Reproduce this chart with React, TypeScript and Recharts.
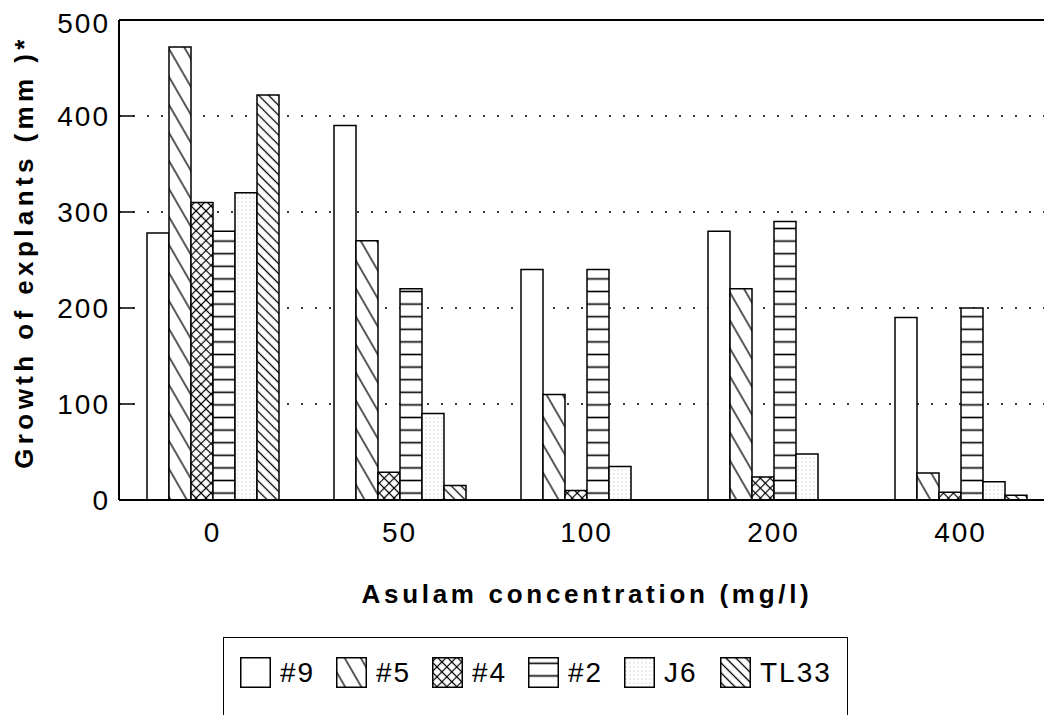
import { BarChart, Bar, XAxis, YAxis, CartesianGrid, ReferenceLine } from "recharts";

// Asulam concentration (mg/l) on the x axis
const concentrations = ["0", "50", "100", "200", "400"];

// growth of explants (mm) per clone
const clone9 = [278, 390, 240, 280, 190];
const clone5 = [472, 270, 110, 220, 28];
const clone4 = [310, 29, 10, 24, 8];
const clone2 = [280, 220, 240, 290, 200];
const cloneJ6 = [320, 90, 35, 48, 19];
const cloneTL33 = [422, 15, 0, 0, 5];

const yTicks = [0, 100, 200, 300, 400, 500];

const series = [
  { key: "c9", name: "#9", values: clone9, pattern: "plain" },
  { key: "c5", name: "#5", values: clone5, pattern: "sparse" },
  { key: "c4", name: "#4", values: clone4, pattern: "cross" },
  { key: "c2", name: "#2", values: clone2, pattern: "hline" },
  { key: "cJ6", name: "J6", values: cloneJ6, pattern: "stipple" },
  { key: "cTL33", name: "TL33", values: cloneTL33, pattern: "dense" },
];

const data = concentrations.map((conc, i) => {
  const row: { [k: string]: string | number } = { conc };
  series.forEach((s) => {
    row[s.key] = s.values[i];
  });
  return row;
});

const FONT = "'Liberation Sans', Arial, Helvetica, sans-serif";

function Patterns({ prefix }: { prefix: string }) {
  return (
    <defs>
      <pattern id={`${prefix}-plain`} width={4} height={4} patternUnits="userSpaceOnUse">
        <rect width={4} height={4} fill="#fff" />
      </pattern>
      <pattern
        id={`${prefix}-sparse`}
        width={14}
        height={14}
        patternUnits="userSpaceOnUse"
        patternTransform="rotate(-30)"
      >
        <rect width={14} height={14} fill="#fff" />
        <line x1={7} y1={0} x2={7} y2={14} stroke="#000" strokeWidth={1.3} />
      </pattern>
      <pattern
        id={`${prefix}-cross`}
        width={7}
        height={7}
        patternUnits="userSpaceOnUse"
        patternTransform="rotate(45)"
      >
        <rect width={7} height={7} fill="#fff" />
        <line x1={0} y1={3.5} x2={7} y2={3.5} stroke="#000" strokeWidth={1.2} />
        <line x1={3.5} y1={0} x2={3.5} y2={7} stroke="#000" strokeWidth={1.2} />
      </pattern>
      <pattern id={`${prefix}-hline`} width={10} height={12.6} patternUnits="userSpaceOnUse">
        <rect width={10} height={12.6} fill="#fff" />
        <line x1={0} y1={6.3} x2={10} y2={6.3} stroke="#000" strokeWidth={1.6} />
      </pattern>
      <pattern id={`${prefix}-stipple`} width={4} height={4} patternUnits="userSpaceOnUse">
        <rect width={4} height={4} fill="#fff" />
        <circle cx={2} cy={2} r={0.7} fill="#cccccc" />
      </pattern>
      <pattern
        id={`${prefix}-dense`}
        width={7}
        height={7}
        patternUnits="userSpaceOnUse"
        patternTransform="rotate(-45)"
      >
        <rect width={7} height={7} fill="#fff" />
        <line x1={3.5} y1={0} x2={3.5} y2={7} stroke="#000" strokeWidth={1.3} />
      </pattern>
    </defs>
  );
}

// y ticks: label on the left, short tick mark pointing into the plot
function YTick(props: any) {
  const { x, y, payload } = props;
  const v = payload.value;
  return (
    <g>
      {v > 0 && v < 500 && (
        <line x1={x} x2={x + 15} y1={y} y2={y} stroke="#000" strokeWidth={1.5} />
      )}
      <text
        x={x - 9}
        y={y}
        dy={v === 500 ? "0.45em" : "0.36em"}
        textAnchor="end"
        fontFamily={FONT}
        fontSize={28}
        letterSpacing={2}
        fill="#000"
      >
        {v}
      </text>
    </g>
  );
}

function LegendBox() {
  return (
    <div
      style={{
        position: "absolute",
        left: 215,
        top: 629,
        width: 625,
        height: 120,
        border: "1.5px solid #000",
        boxSizing: "border-box",
        display: "flex",
        alignItems: "flex-start",
        paddingLeft: 16,
        paddingTop: 19,
        fontFamily: FONT,
        fontSize: 28,
        letterSpacing: 2,
        color: "#000",
      }}
    >
      {series.map((s) => (
        <div key={s.key} style={{ display: "flex", alignItems: "center", width: 96, flexShrink: 0 }}>
          <svg width={31} height={31} style={{ display: "block", flexShrink: 0 }}>
            <Patterns prefix={`leg-${s.key}`} />
            <rect
              x={0.75}
              y={0.75}
              width={29.5}
              height={29.5}
              fill={`url(#leg-${s.key}-${s.pattern})`}
              stroke="#000"
              strokeWidth={1.5}
            />
          </svg>
          <span style={{ marginLeft: 9, lineHeight: "31px", whiteSpace: "nowrap" }}>{s.name}</span>
        </div>
      ))}
    </div>
  );
}

export default function App() {
  return (
    <div
      style={{
        position: "absolute",
        left: 8,
        top: 8,
        width: 1036,
        height: 707,
        overflow: "hidden",
        background: "#fff",
      }}
    >
      <BarChart
        width={1050}
        height={620}
        data={data}
        margin={{ top: 12, right: 4, bottom: 0, left: 0 }}
        barSize={22}
        barGap={0}
      >
        <Patterns prefix="bar" />
        <CartesianGrid
          vertical={false}
          stroke="#000"
          strokeWidth={1.6}
          strokeDasharray="2 12"
        />
        <XAxis
          dataKey="conc"
          height={128}
          axisLine={{ stroke: "#000", strokeWidth: 2 }}
          tickLine={false}
          tickSize={0}
          tickMargin={22}
          tick={{ fill: "#000", fontSize: 28, fontFamily: FONT, letterSpacing: 2 }}
        />
        <YAxis
          width={111}
          domain={[0, 500]}
          ticks={yTicks}
          interval={0}
          axisLine={{ stroke: "#000", strokeWidth: 2 }}
          tickLine={false}
          tickSize={0}
          tickMargin={0}
          tick={<YTick />}
        />
        <ReferenceLine y={500} stroke="#000" strokeWidth={2} />
        {series.map((s) => (
          <Bar
            key={s.key}
            dataKey={s.key}
            name={s.name}
            fill={`url(#bar-${s.pattern})`}
            stroke="#000"
            strokeWidth={1.5}
            isAnimationActive={false}
          />
        ))}
        <text
          x={579}
          y={595}
          textAnchor="middle"
          fontFamily={FONT}
          fontWeight="bold"
          fontSize={26}
          letterSpacing={3.7}
          fill="#000"
        >
          Asulam concentration (mg/l)
        </text>
        <text
          x={25}
          y={244}
          transform="rotate(-90, 25, 244)"
          textAnchor="middle"
          fontFamily={FONT}
          fontWeight="bold"
          fontSize={26}
          letterSpacing={4.4}
          fill="#000"
        >
          Growth of explants (mm )*
        </text>
      </BarChart>
      <LegendBox />
    </div>
  );
}
